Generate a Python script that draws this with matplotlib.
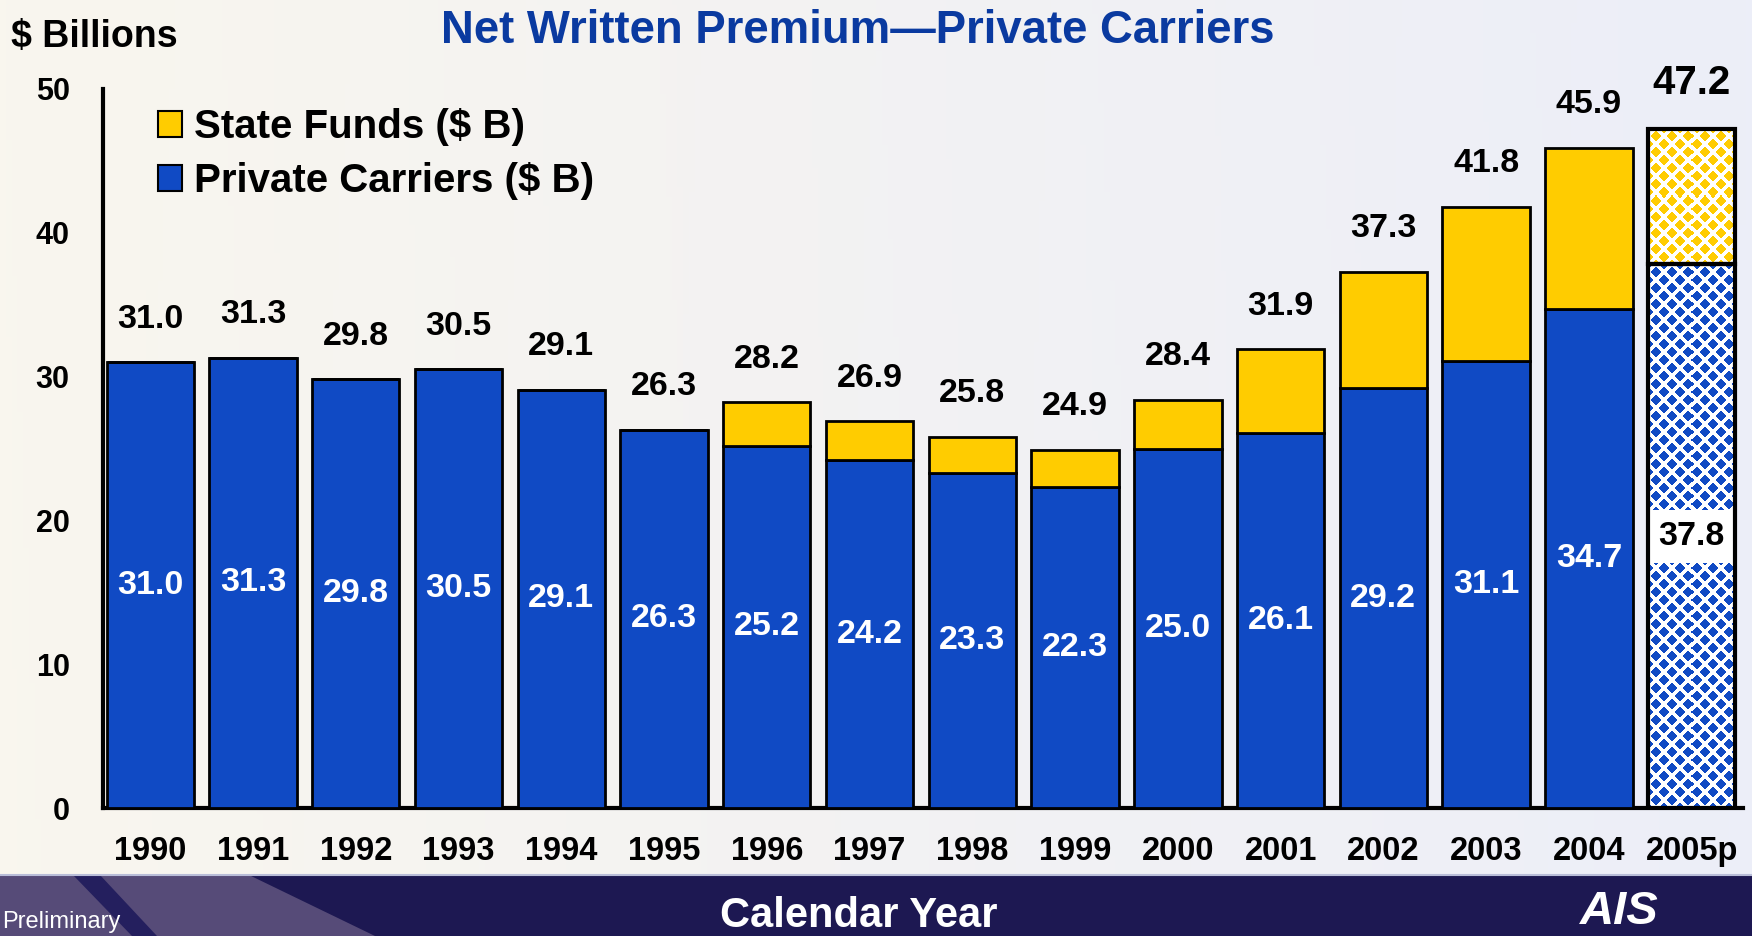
import numpy as np
import matplotlib
matplotlib.use("Agg")
import matplotlib.pyplot as plt
from matplotlib.patches import Patch, Rectangle, Polygon

plt.rcParams['font.family'] = ['Liberation Sans', 'DejaVu Sans']
plt.rcParams['font.weight'] = 'bold'

# net written premium, $ billions
years = ['1990', '1991', '1992', '1993', '1994', '1995', '1996', '1997',
         '1998', '1999', '2000', '2001', '2002', '2003', '2004', '2005p']
total = [31.0, 31.3, 29.8, 30.5, 29.1, 26.3, 28.2, 26.9,
         25.8, 24.9, 28.4, 31.9, 37.3, 41.8, 45.9, 47.2]
private = [31.0, 31.3, 29.8, 30.5, 29.1, 26.3, 25.2, 24.2,
           23.3, 22.3, 25.0, 26.1, 29.2, 31.1, 34.7, 37.8]
state = [round(t - p, 1) for t, p in zip(total, private)]

BLUE = '#104ac4'
GOLD = '#ffcc00'
NAVY = '#1d1852'

W, H = 1752, 936
fig = plt.figure(figsize=(W / 100, H / 100), dpi=100)

# soft background wash
bg = fig.add_axes([0, 0, 1, 1], zorder=-10)
gx = np.linspace(0, 1, 300)[None, :, None]
gy = np.linspace(0, 1, 200)[:, None, None]
left_c = np.array([249, 246, 238]) / 255
right_c = np.array([236, 238, 248]) / 255
img = left_c * (1 - gx) + right_c * gx
img = img * (1 - 0.02 * gy) + 0.02 * gy
bg.imshow(np.clip(img, 0, 1), aspect='auto', extent=(0, 1, 0, 1))
bg.set_xlim(0, 1)
bg.set_ylim(0, 1)
bg.axis('off')

# footer band
band_top = 1 - 875 / H
fig.patches.append(Rectangle((0, 0), 1, band_top, transform=fig.transFigure,
                             facecolor=NAVY, edgecolor='none', zorder=-5))
fig.patches.append(Polygon([(0, band_top), (249 / W, band_top), (375 / W, 0), (0, 0)],
                           closed=True, transform=fig.transFigure,
                           facecolor='#564b78', edgecolor='none', zorder=-4))
fig.patches.append(Polygon([(73 / W, band_top), (100 / W, band_top), (157 / W, 0), (132 / W, 0)],
                           closed=True, transform=fig.transFigure,
                           facecolor='#241f5e', edgecolor='none', zorder=-3))
fig.lines.append(plt.Line2D([0, 1], [band_top, band_top], transform=fig.transFigure,
                            color='#b9bdd8', lw=1.5, zorder=-2))

ax = fig.add_axes([103 / W, 1 - 808 / H, (1743 - 103) / W, (808 - 89) / H])
ax.patch.set_visible(False)

x = np.arange(len(years))
bw = 0.85
n = len(years) - 1

# actual years: solid stacked bars
ax.bar(x[:n], private[:n], bw, color=BLUE, edgecolor='black', lw=2, zorder=3)
ax.bar(x[:n], state[:n], bw, bottom=private[:n], color=GOLD, edgecolor='black', lw=2, zorder=3)

# preliminary year: diamond-checked fill
def diamonds(color, rows, cols, p=16, r=5.8):
    yy, xx = np.mgrid[0:rows, 0:cols] + 0.5
    d1 = np.abs(xx % p - p / 2) + np.abs(yy % p - p / 2)
    d2 = np.abs((xx + p / 2) % p - p / 2) + np.abs((yy + p / 2) % p - p / 2)
    rgb = np.ones((rows, cols, 3))
    rgb[np.minimum(d1, d2) < r] = matplotlib.colors.to_rgb(color)
    return rgb

xl, xr = x[n] - bw / 2, x[n] + bw / 2
for bottom, height, color in [(0, private[n], BLUE), (private[n], state[n], GOLD)]:
    rect = ax.bar(x[n], height, bw, bottom=bottom, color='none',
                  edgecolor='black', lw=3, zorder=5)[0]
    rows = int(round(height / 50 * 719))
    im = ax.imshow(diamonds(color, rows, 87), extent=(xl, xr, bottom, bottom + height),
                   aspect='auto', interpolation='nearest', zorder=4)
    im.set_clip_path(rect)

# value labels
for i in range(len(years)):
    big = i == n
    ax.text(x[i], total[i] + (3.2 if big else 3.0), f'{total[i]:.1f}',
            ha='center', va='center', fontsize=29 if big else 24.5, color='black', zorder=6)
    if big:
        ax.text(x[i], private[i] / 2, f'{private[i]:.1f}', ha='center', va='center',
                fontsize=24.5, color='black', zorder=4.5,
                bbox=dict(boxstyle='square,pad=0.32', facecolor='white', edgecolor='none'))
    else:
        ax.text(x[i], private[i] / 2, f'{private[i]:.1f}', ha='center', va='center',
                fontsize=24.5, color='white', zorder=6)

ax.set_xlim(-0.46, len(years) - 0.5)
ax.set_ylim(0, 50)
ax.set_yticks(range(0, 51, 10))
ax.set_xticks(x)
ax.set_xticklabels(years)
ax.tick_params(axis='x', length=0, pad=20, labelsize=23.5)
ax.tick_params(axis='y', length=0, pad=24, labelsize=22)
for sp in ['top', 'right']:
    ax.spines[sp].set_visible(False)
ax.spines['left'].set_linewidth(3)
ax.spines['bottom'].set_linewidth(3)

handles = [Patch(facecolor=GOLD, edgecolor='black', lw=1.5, label='State Funds ($ B)'),
           Patch(facecolor=BLUE, edgecolor='black', lw=1.5, label='Private Carriers ($ B)')]
fig.legend(handles=handles, loc='upper left', bbox_to_anchor=(138 / W, 1 - 88 / H),
           frameon=False, prop=dict(size=29, weight='bold'), handlelength=0.6,
           handleheight=0.6, handletextpad=0.3, labelspacing=0.4, borderpad=0)

fig.text(11 / W, 1 - 37 / H, '$ Billions', fontsize=27, ha='left', va='center')
fig.text(858 / W, 1 - 31 / H, 'Net Written Premium\u2014Private Carriers',
         fontsize=32.8, color='#0a3aa0', ha='center', va='center')
fig.text(859 / W, 1 - 916 / H, 'Calendar Year', fontsize=30, color='white',
         ha='center', va='center')
fig.text(2 / W, 1 - 922 / H, 'Preliminary', fontsize=17, weight='normal',
         color='white', ha='left', va='center')
fig.text(1580 / W, 2 / H, 'AIS', fontsize=34, style='italic', color='white',
         ha='left', va='bottom')

fig.savefig('out.png', dpi=100)
